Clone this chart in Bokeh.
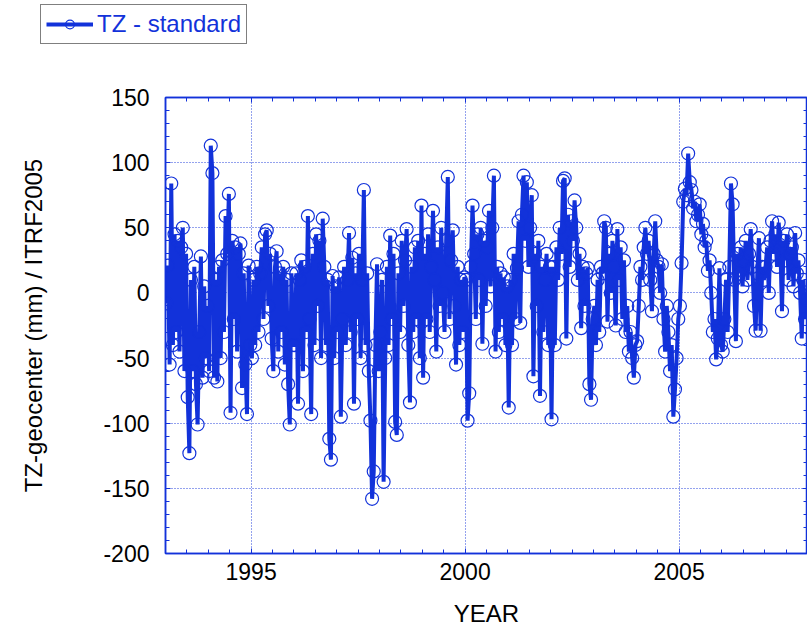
import numpy as np
from bokeh.plotting import figure
from bokeh.layouts import column, row
from bokeh.models import (Range1d, LinearAxis, Legend, LegendItem, SingleIntervalTicker,
                          ColumnDataSource, CustomJSTickFormatter)
from bokeh.embed import file_html
from bokeh.resources import INLINE

# TZ geocenter (mm) w.r.t. ITRF2005, ~biweekly samples
start_year = 1993
samples_per_year = 26
tz_1993 = [-8, 21, -55, 84, -40, 45, -30, 40, -45, 35, 50, -60, 30, -80, -123, 10, -60, 20, -70, -101, -30, 28, -65, 5, -50, -10]
tz_1994 = [-60, 113, 92, -65, 10, -68, 20, -50, 25, -30, 59, 30, 76, -92, 40, -20, 35, -45, 30, 38, -73, 15, -55, -93, 21, -40]
tz_1995 = [-50, 10, -40, 20, -30, 15, 35, -20, 45, 48, -10, 30, -35, -60, 20, 32, -45, 15, -30, 20, -55, 10, -70, -101, 15, -40]
tz_1996 = [-40, 15, -85, 10, 25, -60, 20, -30, 59, -20, -93, 30, -40, 45, -10, 40, -50, 57, 20, -40, 10, -112, -128, 13, -50, 5]
tz_1997 = [-30, 12, -95, -20, 20, -40, 10, 46, -30, 27, -85, 15, -20, 30, -50, 10, 79, -40, 15, -60, -98, -158, -137, -40, 22, -60]
tz_1998 = [-30, 10, -145, -50, 20, -40, 44, -20, 30, -99, -109, 15, -30, 40, -10, 25, 49, -40, -84, 20, -30, 35, -20, 40, -50, 67]
tz_1999 = [-65, 30, -20, 45, -30, 20, 63, 10, -45, 35, -10, 50, 0, -30, 40, 89, -20, 25, 48, -10, -55, 20, -40, 10, -30, 12]
tz_2000 = [10, -98, -77, 20, 67, 30, -20, 45, 10, 50, -39, 40, -10, 35, 63, 5, 50, 90, -45, 20, -30, 15, -20, 12, -40, 5]
tz_2001 = [-88, 10, -40, 30, -20, 19, 55, -23, 60, 90, 40, 85, 20, 50, 75, -64, 30, -10, 40, -79, 20, -30, 10, 30, -40, 20]
tz_2002 = [-97, 20, -40, 35, 10, 50, 30, 86, 88, -35, 60, 20, 55, 40, 71, 50, 10, 30, -27, 20, -10, 15, 19, -70, -82, -20]
tz_2003 = [-10, -40, 10, -30, 20, 15, 55, 50, -22, 30, 0, 40, 20, -25, 49, 10, 35, -20, 25, -30, -10, -45, -30, -50, -65, -40]
tz_2004 = [-37, -10, 20, 10, 35, 50, 30, 40, 10, -14, 30, 55, 25, 20, 0, 22, -20, -45, -10, -30, -60, -40, -95, -74, -50, -20]
tz_2005 = [-10, 23, 70, 80, 75, 107, 85, 79, 65, 70, 55, 60, 68, 45, 53, 35, 40, 17, 25, 0, -30, -20, -51, -35, 19, -40]
tz_2006 = [-45, -20, 10, -30, 20, 84, 68, 10, -37, 30, 15, 35, 5, 25, 40, 10, 30, 49, 20, -10, -29, 15, 42, -29, 20, 10]
tz_2007 = [20, 35, 0, 40, 55, 30, 45, 20, 54, 35, -14, 40, 25, 45, 10, 30, 35, 5, 46, 15, 25, 0, -35, 10, -20, -5]

tz = (tz_1993 + tz_1994 + tz_1995 + tz_1996 + tz_1997 + tz_1998 + tz_1999 + tz_2000
      + tz_2001 + tz_2002 + tz_2003 + tz_2004 + tz_2005 + tz_2006 + tz_2007)
years = start_year + (np.arange(len(tz)) + 0.5) / samples_per_year

y_ticks = [-200, -150, -100, -50, 0, 50, 100, 150]
y_tick_labels = {v: str(v) for v in y_ticks}   # plain hyphen minus

BLUE = "#1232DA"
FONT = "Liberation Sans"
LEG_H = 46

src = ColumnDataSource(dict(x=years, y=tz))

# ---- main plot ----
p = figure(width=807, height=634 - LEG_H, output_backend="svg", toolbar_location=None,
           x_range=Range1d(1993, 2008), y_range=Range1d(-200, 150),
           x_axis_label="YEAR", y_axis_label="TZ-geocenter (mm) / ITRF2005",
           min_border_left=165, min_border_top=97 - LEG_H, min_border_right=0, min_border_bottom=81)
p.background_fill_color = "white"
p.border_fill_color = "white"
p.outline_line_color = BLUE
p.outline_line_width = 1.5

p.line("x", "y", source=src, line_color=BLUE, line_width=4)
p.scatter("x", "y", source=src, marker="circle", size=13, fill_color=None,
          line_color=BLUE, line_width=1.2)

xt = SingleIntervalTicker(interval=5, num_minor_ticks=10)
yt = SingleIntervalTicker(interval=50, num_minor_ticks=5)
blank = CustomJSTickFormatter(code="return ''")

def style_axis(ax, labels=True):
    ax.axis_line_color = BLUE
    ax.axis_line_width = 1.5
    ax.major_tick_line_color = BLUE
    ax.minor_tick_line_color = BLUE
    ax.major_tick_in = 5
    ax.major_tick_out = 0
    ax.minor_tick_in = 4
    ax.minor_tick_out = 0
    ax.major_label_text_font = FONT
    ax.major_label_text_color = "black"
    ax.major_label_text_font_size = "23px"
    ax.axis_label_text_font = FONT
    ax.axis_label_text_font_style = "normal"
    ax.axis_label_text_color = "black"
    ax.axis_label_text_font_size = "24px"
    if not labels:
        ax.formatter = blank
        ax.major_label_standoff = 0

xa = p.xaxis[0]
xa.ticker = xt
style_axis(xa)
xa.major_label_standoff = 9
xa.axis_label_standoff = 17

ya = p.yaxis[0]
ya.ticker = yt
style_axis(ya)
ya.major_label_overrides = y_tick_labels
ya.major_label_standoff = 16
ya.axis_label_standoff = 53

top = LinearAxis(ticker=SingleIntervalTicker(interval=5, num_minor_ticks=10))
style_axis(top, labels=False)
p.add_layout(top, "above")
right = LinearAxis(ticker=SingleIntervalTicker(interval=50, num_minor_ticks=5))
style_axis(right, labels=False)
p.add_layout(right, "right")

for g in (p.xgrid[0], p.ygrid[0]):
    g.grid_line_color = BLUE
    g.grid_line_dash = "1 2"
    g.grid_line_width = 1
    g.grid_line_alpha = 0.9
p.xgrid[0].ticker = xt
p.ygrid[0].ticker = yt

# ---- legend strip above the plot ----
lf = figure(width=807, height=LEG_H, output_backend="svg", toolbar_location=None,
            x_range=Range1d(0, 1), y_range=Range1d(0, 1),
            x_axis_location=None, y_axis_location=None,
            min_border_left=0, min_border_right=0, min_border_top=0, min_border_bottom=0)
lf.outline_line_color = None
lf.xgrid.visible = False
lf.ygrid.visible = False
lf.background_fill_color = "white"
lf.border_fill_color = "white"
l_line = lf.line("x", "y", source=src, line_color=BLUE, line_width=4)
l_pts = lf.scatter("x", "y", source=src, marker="circle", size=13, fill_color=None,
                   line_color=BLUE, line_width=1.2)

legend = Legend(items=[LegendItem(label="TZ - standard", renderers=[l_line, l_pts])],
                location=(40, LEG_H - 6 - 38), orientation="vertical")
legend.label_text_font = FONT
legend.label_text_font_size = "24px"
legend.label_text_color = BLUE
legend.border_line_color = "black"
legend.border_line_width = 1.5
legend.background_fill_color = "white"
legend.background_fill_alpha = 1
legend.glyph_width = 47
legend.glyph_height = 22
legend.label_standoff = 4
legend.padding = 5
legend.margin = 0
legend.spacing = 0
lf.add_layout(legend, "center")

layout = column(row(lf), p, spacing=0)
open("out.html", "w").write(file_html(layout, INLINE))
